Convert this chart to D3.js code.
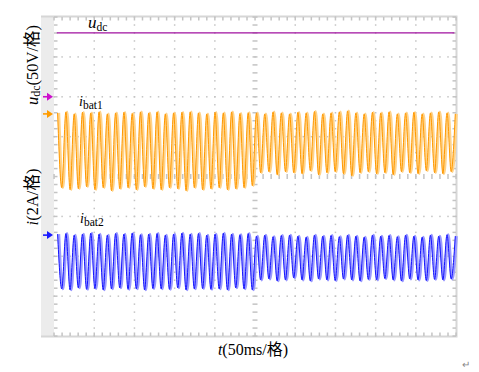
<!DOCTYPE html>
<html>
<head>
<meta charset="utf-8">
<script src="https://cdn.jsdelivr.net/npm/d3@7/dist/d3.min.js"></script>
<style>
  body { margin: 0; background: #fff; }
  text { font-family: "Liberation Serif", "Noto Sans CJK SC", serif; }
</style>
</head>
<body>
<script>
let w = 479, h = 372;

// time axis: 50 ms/div, 10 div ; vertical 8 div
let tFirstPeak = 5.35,   // ms
    ripplePeriod = 10.305; // ms

// udc (V), flat
let udcTimes = [3.5, 100, 200, 300, 400, 498];
let udcValues = [80, 80, 80, 80, 80, 80];

// ibat1 (A) : peak / trough per ripple cycle
let ibat1Peaks = [0.05, 0.10, 0.00, 0.08, 0.05, 0.10, 0.00, 0.05, 0.08, 0.02, 0.10, 0.05,
                  0.10, 0.00, 0.05, 0.08, 0.10, 0.05, 0.00, 0.08, 0.05, 0.10, 0.02, 0.06,
                  0.05, 0.00, 0.10, 0.05, 0.00, 0.08, 0.05, 0.12, 0.00, 0.05, 0.10, 0.15,
                  0.05, 0.00, 0.08, 0.05, 0.10, 0.00, 0.05, 0.08, 0.00, 0.05, 0.10, 0.05, 0.00];
let ibat1Troughs = [-3.70, -3.80, -3.75, -3.65, -3.80, -3.70, -3.85, -3.75, -3.70, -3.80, -3.65, -3.75,
                    -3.80, -3.70, -3.75, -3.85, -3.70, -3.80, -3.75, -3.70, -3.80, -3.75, -3.70, -3.60,
                    -2.95, -2.90, -3.05, -2.90, -2.95, -3.00, -2.85, -3.05, -2.95, -2.90, -3.00, -3.10,
                    -2.95, -2.90, -3.00, -2.95, -3.05, -2.90, -2.95, -3.00, -2.85, -2.95, -3.00, -2.90];

// ibat2 (A)
let ibat2Peaks = [0.05, 0.08, 0.00, 0.05, 0.10, 0.05, 0.00, 0.08, 0.05, 0.10, 0.02, 0.05,
                  0.08, 0.00, 0.05, 0.10, 0.05, 0.08, 0.00, 0.05, 0.10, 0.05, 0.02, 0.08,
                  -0.05, 0.00, -0.08, -0.02, 0.00, -0.05, -0.10, 0.00, -0.05, -0.02, -0.08, 0.00,
                  -0.05, -0.10, 0.00, -0.05, -0.02, -0.08, 0.00, -0.05, -0.10, 0.00, -0.05, 0.02, -0.05];
let ibat2Troughs = [-2.70, -2.75, -2.65, -2.72, -2.68, -2.75, -2.70, -2.65, -2.72, -2.70, -2.75, -2.68,
                    -2.70, -2.72, -2.65, -2.75, -2.70, -2.68, -2.72, -2.70, -2.75, -2.65, -2.70, -2.75,
                    -2.25, -2.20, -2.30, -2.25, -2.15, -2.25, -2.30, -2.20, -2.25, -2.28, -2.20, -2.25,
                    -2.30, -2.22, -2.25, -2.18, -2.25, -2.30, -2.20, -2.25, -2.28, -2.22, -2.25, -2.20];

// channel settings: ground marker (div) and volts/amps per div
let channels = [
  {name: "udc", offset: 2.0, perDiv: 50, color: "#cc10cc", line: "#a0109f"},
  {name: "ibat1", offset: 1.57, perDiv: 2, color: "#ff9c00", line: "#ff9900", light: "#ffd38a"},
  {name: "ibat2", offset: -1.47, perDiv: 2, color: "#1a1aff", line: "#1414ff", light: "#9a9aff"}
];

let pLeft = 54, pRight = 456, pTop = 17, pBottom = 336;

let x = d3.scaleLinear().domain([0, 500]).range([pLeft, pRight]);
let y = d3.scaleLinear().domain([-4, 4]).range([pBottom, pTop]);
let xd = d3.scaleLinear().domain([0, 10]).range([pLeft, pRight]); // divisions

let svg = d3.select("body").append("svg").attr("width", w).attr("height", h);

// frame
svg.append("rect").attr("x", 41).attr("y", 16).attr("width", pLeft - 41).attr("height", pBottom - 16 + 1)
  .attr("fill", "#ececec");
svg.append("rect").attr("x", pLeft).attr("y", pTop).attr("width", pRight - pLeft).attr("height", pBottom - pTop)
  .attr("fill", "#fff");
svg.append("path")
  .attr("d", `M41,${pTop - 0.5}H${pRight + 0.5}V${pBottom + 0.5}H41`)
  .attr("fill", "none").attr("stroke", "#d6d6d6").attr("stroke-width", 2);

let minorX = d3.range(0, 10.01, 0.2), minorY = d3.range(-4, 4.01, 0.2);
let grid = svg.append("g").attr("fill", "#c4c4c4");

// dotted grid lines
[1, 2, 3, 4, 6, 7, 8, 9].forEach(function(d){
  grid.selectAll(null).data(minorY).enter().append("rect")
    .attr("x", xd(d) - 0.7).attr("y", function(v){return y(v) - 0.7})
    .attr("width", 1.5).attr("height", 1.5);
});
[-3, -2, -1, 1, 2, 3].forEach(function(d){
  grid.selectAll(null).data(minorX).enter().append("rect")
    .attr("x", function(v){return xd(v) - 0.7}).attr("y", y(d) - 0.7)
    .attr("width", 1.5).attr("height", 1.5);
});
// centre axes with minor ticks
grid.selectAll(null).data(minorY).enter().append("rect")
  .attr("x", xd(5) - 2.5).attr("y", function(v){return y(v) - 0.7})
  .attr("width", 5).attr("height", 1.5);
grid.selectAll(null).data(minorX).enter().append("rect")
  .attr("x", function(v){return xd(v) - 0.7}).attr("y", y(0) - 2.5)
  .attr("width", 1.5).attr("height", 5);
// edge ticks
grid.selectAll(null).data(minorX).enter().append("rect")
  .attr("x", function(v){return xd(v) - 0.7}).attr("y", pTop).attr("width", 1.5).attr("height", 3.5);
grid.selectAll(null).data(minorX).enter().append("rect")
  .attr("x", function(v){return xd(v) - 0.7}).attr("y", pBottom - 3.5).attr("width", 1.5).attr("height", 3.5);
grid.selectAll(null).data(minorY).enter().append("rect")
  .attr("x", pLeft).attr("y", function(v){return y(v) - 0.7}).attr("width", 3.5).attr("height", 1.5);
grid.selectAll(null).data(minorY).enter().append("rect")
  .attr("x", pRight - 3.5).attr("y", function(v){return y(v) - 0.7}).attr("width", 3.5).attr("height", 1.5);

// traces
function ripplePoints(peaks, troughs){
  let pts = [];
  peaks.forEach(function(p, k){
    pts.push([tFirstPeak + k * ripplePeriod, p]);
    if (k < troughs.length) pts.push([tFirstPeak + (k + 0.5) * ripplePeriod, troughs[k]]);
  });
  return pts;
}

function lineFor(ch){
  return d3.line()
    .x(function(d){return x(d[0])})
    .y(function(d){return y(ch.offset + d[1] / ch.perDiv)})
    .curve(d3.curveMonotoneX);
}

let udcPts = udcTimes.map(function(t, i){return [t, udcValues[i]]});
svg.append("path").datum(udcPts).attr("d", lineFor(channels[0]))
  .attr("fill", "none").attr("stroke", channels[0].line).attr("stroke-width", 1.2);

[[channels[1], ripplePoints(ibat1Peaks, ibat1Troughs)],
 [channels[2], ripplePoints(ibat2Peaks, ibat2Troughs)]].forEach(function(c){
  let ch = c[0];
  svg.append("path").datum(c[1]).attr("d", lineFor(ch))
    .attr("fill", "none").attr("stroke", ch.light).attr("stroke-width", 2.8)
    .attr("transform", "translate(0.5,0)");
  svg.append("path").datum(c[1]).attr("d", lineFor(ch))
    .attr("fill", "none").attr("stroke", ch.line).attr("stroke-width", 1)
    .attr("transform", "translate(-0.7,0)");
});

// ground markers
channels.forEach(function(ch){
  let yy = y(ch.offset);
  svg.append("path").attr("d", `M43,${yy}H48`).attr("stroke", ch.color).attr("stroke-width", 1.6);
  svg.append("path").attr("d", `M47,${yy - 4}L53,${yy}L47,${yy + 4}Z`).attr("fill", ch.color);
});

// labels
function label(xp, yp, main, sub, size, subSize){
  let t = svg.append("text").attr("x", xp).attr("y", yp).attr("fill", "#000");
  t.append("tspan").attr("font-style", "italic").attr("font-size", size).text(main);
  t.append("tspan").attr("font-size", subSize).attr("dy", 2.5).text(sub);
}
label(88, 28, "u", "dc", 17, 11.5);
label(79, 106, "i", "bat1", 14, 11.5);
label(80, 223, "i", "bat2", 14, 11.5);

let yl1 = svg.append("text").attr("transform", "translate(38,65) rotate(-90)")
  .attr("text-anchor", "middle").attr("font-size", 16.5);
yl1.append("tspan").attr("font-style", "italic").text("u");
yl1.append("tspan").attr("font-size", 12).attr("dy", 2).text("dc");
yl1.append("tspan").attr("dy", -2).text("(50V/格)");

let yl2 = svg.append("text").attr("transform", "translate(38,197) rotate(-90)")
  .attr("text-anchor", "middle").attr("font-size", 16.5);
yl2.append("tspan").attr("font-style", "italic").text("i");
yl2.append("tspan").text("(2A/格)");

let xl = svg.append("text").attr("x", 253).attr("y", 355)
  .attr("text-anchor", "middle").attr("font-size", 16);
xl.append("tspan").attr("font-style", "italic").text("t");
xl.append("tspan").text("(50ms/格)");

svg.append("text").attr("x", 462).attr("y", 368).attr("font-size", 10)
  .attr("fill", "#888").text("↵");
</script>
</body>
</html>
